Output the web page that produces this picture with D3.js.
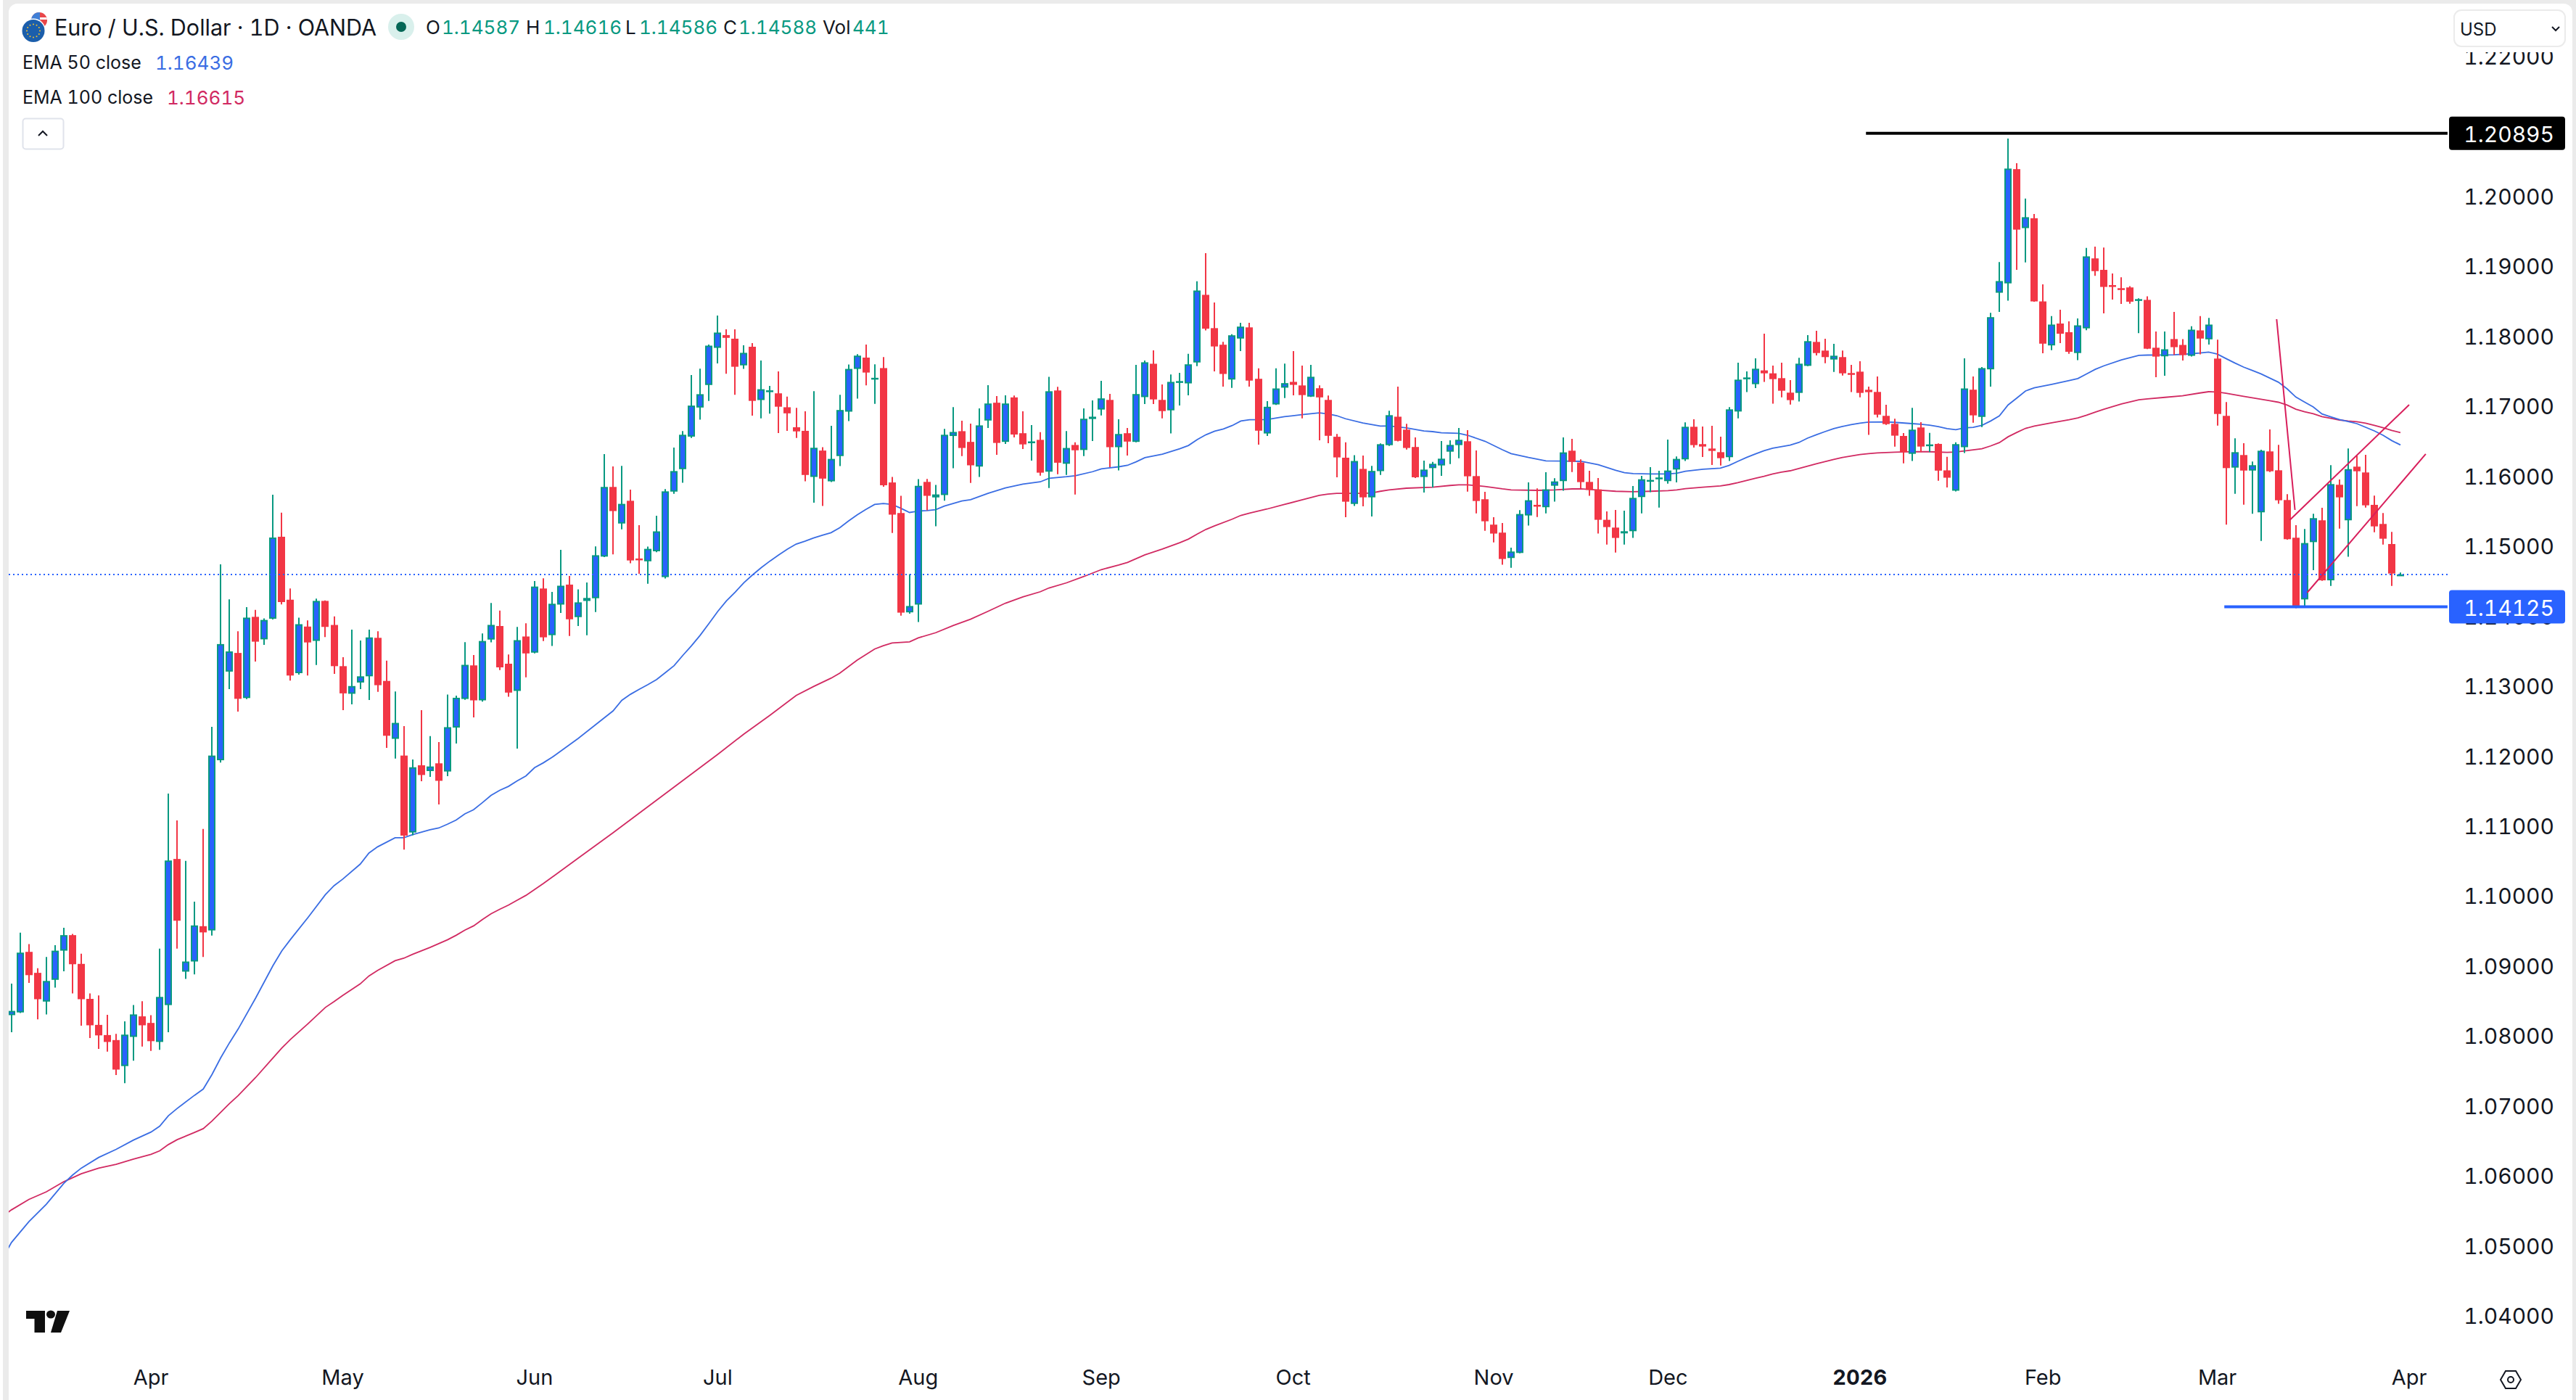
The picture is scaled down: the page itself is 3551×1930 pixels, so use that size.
<!DOCTYPE html>
<html><head><meta charset="utf-8">
<script src="https://cdn.jsdelivr.net/npm/d3@7"></script>
<style>html,body{margin:0;padding:0;background:#fff;overflow:hidden}svg{display:block}text{font-family:Inter,"Noto Sans",sans-serif;font-variant-numeric:tabular-nums}</style>
</head><body><svg id="c" width="3551" height="1930"></svg>
<script>
const highs=[
1.08738,1.09466,1.09305,1.08960,1.09121,1.09288,1.09538,1.09449,1.09166,1.08599,
1.08571,1.08293,1.08021,1.08199,1.08432,1.08488,1.08288,1.09238,1.11455,1.11071,
1.10493,1.09910,1.10949,1.12410,1.14732,1.14232,1.13777,1.14121,1.14082,1.13960,
1.15727,1.15471,1.14388,1.13971,1.13932,1.14243,1.14216,1.13988,1.13405,1.13799,
1.13643,1.13799,1.13777,1.13355,1.12916,1.12421,1.11943,1.12649,1.12277,1.12193,
1.12871,1.12856,1.13621,1.13435,1.13744,1.14181,1.14070,1.13443,1.13839,1.13891,
1.14494,1.14534,1.14339,1.14939,1.14566,1.14375,1.14474,1.14990,1.16308,1.16133,
1.16141,1.15800,1.15292,1.14986,1.15427,1.15808,1.16403,1.16637,1.17438,1.17530,
1.17875,1.18288,1.18093,1.18093,1.17863,1.17895,1.17645,1.17284,1.17490,1.17129,
1.16970,1.16919,1.17208,1.16407,1.16712,1.17157,1.17589,1.17736,1.17875,1.17593,
1.17696,1.15982,1.15712,1.14593,1.15950,1.15954,1.15867,1.16668,1.16981,1.16785,
1.16745,1.16963,1.17294,1.17138,1.17149,1.17145,1.16919,1.16723,1.16621,1.17414,
1.17269,1.16639,1.16476,1.16963,1.17076,1.17356,1.17170,1.16807,1.16683,1.17585,
1.17647,1.17792,1.17305,1.17447,1.17469,1.17741,1.18778,1.19182,1.18476,1.17912,
1.18021,1.18185,1.18185,1.17534,1.17065,1.17534,1.17603,1.17781,1.17574,1.17585,
1.17290,1.17145,1.16596,1.16476,1.16294,1.16287,1.16141,1.16461,1.16927,1.17272,
1.16741,1.16548,1.16214,1.16196,1.16495,1.16506,1.16682,1.16651,1.16361,1.15770,
1.15407,1.15324,1.14971,1.15507,1.15904,1.15818,1.16050,1.15963,1.16547,1.16527,
1.16233,1.16070,1.15967,1.15490,1.15510,1.15500,1.15853,1.15998,1.16122,1.16070,
1.16516,1.16274,1.16762,1.16806,1.16703,1.16713,1.16558,1.16979,1.17615,1.17491,
1.17677,1.18030,1.17574,1.17615,1.17366,1.17684,1.18009,1.18071,1.17957,1.17885,
1.17788,1.17584,1.17636,1.17273,1.17418,1.17014,1.16813,1.16610,1.16969,1.16765,
1.16611,1.16462,1.16269,1.16476,1.17676,1.17418,1.17553,1.18327,1.19055,1.20819,
1.20466,1.19960,1.19742,1.18735,1.18280,1.18371,1.18207,1.18247,1.19255,1.19273,
1.19262,1.18891,1.18837,1.18709,1.18535,1.18564,1.18062,1.18062,1.18342,1.17953,
1.18135,1.18280,1.18255,1.17943,1.17052,1.16533,1.16464,1.16201,1.16371,1.16661,
1.16440,1.15735,1.15292,1.15237,1.15455,1.15541,1.16150,1.15946,1.16388,1.16284,
1.16298,1.15714,1.15465,1.15196,1.14616];
const lows=[
1.08043,1.08320,1.08749,1.08227,1.08299,1.08682,1.08916,1.08599,1.08138,1.07960,
1.07805,1.07766,1.07432,1.07316,1.07638,1.07838,1.07777,1.07793,1.08043,1.09238,
1.08805,1.08871,1.09121,1.09427,1.11899,1.12949,1.12627,1.12805,1.13343,1.13582,
1.13944,1.14160,1.13071,1.13155,1.13143,1.13293,1.13693,1.13166,1.12649,1.12732,
1.12949,1.12793,1.12910,1.12110,1.11955,1.10655,1.10860,1.11632,1.11693,1.11299,
1.11705,1.12171,1.12796,1.12545,1.12770,1.13617,1.13220,1.12840,1.12099,1.13117,
1.13459,1.13637,1.13566,1.14038,1.13709,1.13851,1.13720,1.14050,1.14835,1.14875,
1.15232,1.14748,1.14597,1.14455,1.14907,1.14530,1.15740,1.15899,1.16538,1.16800,
1.17069,1.17605,1.17458,1.17157,1.17526,1.16859,1.16819,1.16887,1.16609,1.16641,
1.16538,1.15919,1.15613,1.15566,1.15910,1.16137,1.16780,1.17101,1.17292,1.17026,
1.15843,1.15181,1.13998,1.14026,1.13907,1.15506,1.15276,1.15643,1.16105,1.16279,
1.15897,1.15981,1.16683,1.16297,1.16454,1.16548,1.16381,1.16214,1.15999,1.15825,
1.16021,1.16010,1.15730,1.16279,1.16494,1.16861,1.16123,1.16076,1.16287,1.16478,
1.17025,1.17025,1.16818,1.16603,1.17003,1.17149,1.17567,1.18076,1.17490,1.17272,
1.17254,1.17781,1.17272,1.16443,1.16567,1.17010,1.17109,1.17149,1.16818,1.17125,
1.16505,1.16465,1.15977,1.15406,1.15566,1.15563,1.15417,1.16010,1.16425,1.16490,
1.16374,1.15966,1.15759,1.15832,1.15998,1.16167,1.16250,1.15773,1.15462,1.15213,
1.15047,1.14726,1.14684,1.14890,1.15286,1.15410,1.15462,1.15628,1.15784,1.16053,
1.15822,1.15711,1.15172,1.15016,1.14902,1.15016,1.15110,1.15462,1.15763,1.15545,
1.15887,1.15904,1.16209,1.16402,1.16267,1.16153,1.16146,1.16209,1.16820,1.17194,
1.17252,1.17339,1.17028,1.17121,1.17017,1.17059,1.17567,1.17719,1.17608,1.17484,
1.17432,1.17194,1.17121,1.16582,1.16831,1.16727,1.16416,1.16177,1.16209,1.16336,
1.16338,1.15927,1.15832,1.15774,1.16323,1.16756,1.16694,1.17273,1.18342,1.18502,
1.18942,1.19048,1.18485,1.17749,1.17793,1.17895,1.17742,1.17651,1.18080,1.18858,
1.18320,1.18517,1.18455,1.18458,1.18037,1.17810,1.17407,1.17429,1.17727,1.17647,
1.17702,1.17735,1.17873,1.16716,1.15299,1.15742,1.15586,1.15455,1.15068,1.16053,
1.15597,1.15085,1.14104,1.14124,1.14650,1.14497,1.14425,1.15244,1.14840,1.15565,
1.15545,1.15192,1.15016,1.14425,1.14586];
const opens=[
1.08288,1.08327,1.09193,1.08893,1.08482,1.08793,1.09210,1.09432,1.09021,1.08521,
1.08149,1.08004,1.07932,1.07560,1.07977,1.08271,1.08177,1.07905,1.08432,1.10521,
1.08910,1.09055,1.09560,1.09499,1.11932,1.13199,1.13466,1.12821,1.13982,1.13660,
1.13955,1.15127,1.14227,1.13177,1.13843,1.13638,1.14210,1.13866,1.13277,1.12882,
1.13043,1.13132,1.13682,1.13066,1.12238,1.11999,1.10899,1.11860,1.11777,1.11888,
1.11771,1.12399,1.12808,1.13288,1.12788,1.13657,1.13851,1.13312,1.12923,1.13701,
1.13470,1.14387,1.13720,1.14157,1.14443,1.13978,1.14209,1.14248,1.14843,1.15839,
1.15316,1.15641,1.14816,1.14776,1.14919,1.14550,1.15772,1.16093,1.16558,1.16974,
1.17296,1.17827,1.18010,1.17958,1.17577,1.17843,1.17081,1.17204,1.17177,1.16978,
1.16692,1.16641,1.15982,1.16359,1.15919,1.16280,1.16915,1.17526,1.17688,1.17383,
1.17538,1.15903,1.15466,1.14046,1.14157,1.15911,1.15689,1.15723,1.16567,1.16636,
1.16483,1.16130,1.16788,1.17043,1.16483,1.17119,1.16607,1.16476,1.16512,1.16057,
1.17218,1.16170,1.16439,1.16367,1.16810,1.16945,1.17083,1.16407,1.16607,1.16483,
1.17123,1.17600,1.17083,1.16934,1.17338,1.17319,1.17618,1.18585,1.18109,1.17872,
1.17374,1.17960,1.18120,1.17385,1.16603,1.17018,1.17258,1.17341,1.17290,1.17130,
1.17250,1.17083,1.16556,1.16257,1.15596,1.16097,1.15690,1.16065,1.16436,1.16843,
1.16658,1.16410,1.15981,1.16108,1.16146,1.16343,1.16437,1.16492,1.15994,1.15663,
1.15300,1.15186,1.14823,1.14895,1.15431,1.15583,1.15549,1.15856,1.15922,1.16357,
1.16188,1.15911,1.15804,1.15369,1.15258,1.15175,1.15206,1.15694,1.15922,1.15956,
1.15922,1.16088,1.16233,1.16699,1.16451,1.16388,1.16336,1.16264,1.16917,1.17391,
1.17308,1.17505,1.17463,1.17394,1.17187,1.17183,1.17570,1.17912,1.17788,1.17660,
1.17695,1.17467,1.17487,1.17228,1.17197,1.16855,1.16741,1.16568,1.16312,1.16689,
1.16436,1.16454,1.16076,1.15785,1.16407,1.17229,1.16840,1.17520,1.18615,1.18749,
1.20382,1.19539,1.19680,1.18491,1.17862,1.18175,1.18051,1.17753,1.18106,1.19106,
1.18942,1.18724,1.18680,1.18691,1.18502,1.18513,1.17829,1.17706,1.17953,1.17869,
1.17713,1.18077,1.17949,1.17674,1.16855,1.16115,1.16295,1.16073,1.15476,1.16347,
1.16077,1.15652,1.15113,1.14231,1.15050,1.15362,1.14504,1.15870,1.15362,1.16129,
1.16046,1.15583,1.15310,1.15023,1.14587];
const closes=[
1.08349,1.09182,1.08860,1.08516,1.08777,1.09210,1.09432,1.09016,1.08516,1.08143,
1.07999,1.07905,1.07510,1.08010,1.08299,1.08143,1.07916,1.08549,1.10499,1.09638,
1.09055,1.09571,1.09471,1.11999,1.13593,1.13488,1.12810,1.13971,1.13627,1.13938,
1.15116,1.14193,1.13143,1.13877,1.13616,1.14210,1.13838,1.13277,1.12888,1.12993,
1.13132,1.13688,1.13005,1.12282,1.12466,1.10855,1.11832,1.11721,1.11843,1.11638,
1.12405,1.12825,1.13296,1.12788,1.13637,1.13867,1.13260,1.12899,1.13649,1.13459,
1.14415,1.13689,1.14169,1.14427,1.13947,1.14189,1.14252,1.14863,1.15839,1.15494,
1.15597,1.14788,1.14800,1.14954,1.15204,1.15776,1.16066,1.16585,1.17002,1.17165,
1.17859,1.18046,1.17970,1.17557,1.17756,1.17069,1.17236,1.17220,1.16986,1.16891,
1.16633,1.16010,1.16399,1.15958,1.16240,1.16939,1.17526,1.17716,1.17474,1.17399,
1.15863,1.15443,1.14042,1.14137,1.15855,1.15712,1.15732,1.16585,1.16625,1.16396,
1.16148,1.16719,1.17032,1.16468,1.17032,1.16588,1.16447,1.16490,1.16043,1.17207,
1.16185,1.16396,1.16363,1.16814,1.16843,1.17105,1.16407,1.16596,1.16487,1.17167,
1.17621,1.17090,1.16923,1.17341,1.17352,1.17592,1.18647,1.18101,1.17847,1.17454,
1.18007,1.18131,1.17359,1.16643,1.16985,1.17247,1.17323,1.17298,1.17152,1.17414,
1.17119,1.16570,1.16261,1.15628,1.16210,1.15690,1.16068,1.16450,1.16865,1.16498,
1.16396,1.15977,1.16087,1.16170,1.16243,1.16440,1.16513,1.15991,1.15638,1.15348,
1.15172,1.14809,1.14916,1.15452,1.15649,1.15569,1.15804,1.15918,1.16333,1.16198,
1.15908,1.15797,1.15369,1.15265,1.15110,1.15206,1.15683,1.15949,1.15939,1.15974,
1.16074,1.16240,1.16699,1.16437,1.16416,1.16354,1.16250,1.16948,1.17373,1.17404,
1.17529,1.17463,1.17380,1.17214,1.17080,1.17601,1.17923,1.17753,1.17695,1.17715,
1.17463,1.17457,1.17183,1.17194,1.16872,1.16737,1.16572,1.16336,1.16658,1.16416,
1.16447,1.16072,1.15971,1.16451,1.17247,1.16862,1.17538,1.18266,1.18782,1.20390,
1.19517,1.19695,1.18491,1.17887,1.18160,1.18029,1.17771,1.18149,1.19135,1.18924,
1.18698,1.18713,1.18669,1.18487,1.18524,1.17815,1.17702,1.17807,1.17837,1.17724,
1.18087,1.17960,1.18160,1.16882,1.16108,1.16336,1.16073,1.16150,1.16357,1.16063,
1.15648,1.15092,1.14124,1.15037,1.15393,1.14504,1.15880,1.15690,1.16094,1.16063,
1.15576,1.15275,1.15099,1.14601,1.14588];
const ema50Bars=[0,1,3,5,7,8,9,11,13,15,17,18,19,20,22,23,24,25,26,27,29,31,32,33,35,37,38,39,41,42,43,45,46,47,49,50,51,52,53,54,55,56,57,58,59,60,61,62,63,66,70,71,72,73,74,75,76,77,78,79,80,81,82,83,84,85,86,87,88,89,90,91,92,93,94,95,96,97,98,99,100,101,102,103,104,105,106,107,108,110,111,113,115,117,119,120,122,123,125,126,128,129,130,131,133,135,136,137,138,139,140,141,142,143,145,147,149,151,152,153,154,156,158,159,161,163,164,165,167,168,170,172,173,175,177,179,181,183,185,186,187,189,191,192,193,195,197,198,199,200,201,202,203,205,206,207,208,209,210,211,212,213,214,216,217,219,220,221,222,223,224,225,226,227,228,229,230,231,232,233,235,237,238,239,240,241,243,245,246,249,251,252,253,254,255,256,257,258,259,260,261,262,263,264,265,266,267,268,269,270,271,272,273,274,275];
const ema50Values=[1.04816,1.05039,1.05337,1.05585,1.05883,1.06001,1.06101,1.06254,1.06369,1.06503,1.06617,1.06701,1.06850,1.06954,1.07143,1.07232,1.07440,1.07678,1.07892,1.08090,1.08532,1.08998,1.09206,1.09370,1.09683,1.10010,1.10139,1.10233,1.10447,1.10605,1.10695,1.10824,1.10824,1.10868,1.10938,1.10963,1.11017,1.11077,1.11166,1.11225,1.11325,1.11429,1.11503,1.11558,1.11637,1.11707,1.11826,1.11895,1.11974,1.12244,1.12637,1.12788,1.12875,1.12947,1.13014,1.13086,1.13185,1.13284,1.13431,1.13570,1.13720,1.13887,1.14058,1.14209,1.14335,1.14470,1.14582,1.14685,1.14780,1.14867,1.14951,1.15022,1.15062,1.15109,1.15149,1.15185,1.15256,1.15351,1.15439,1.15518,1.15589,1.15601,1.15589,1.15534,1.15474,1.15494,1.15502,1.15514,1.15566,1.15639,1.15657,1.15748,1.15825,1.15879,1.15912,1.15963,1.15985,1.15999,1.16057,1.16097,1.16127,1.16148,1.16199,1.16257,1.16308,1.16385,1.16432,1.16516,1.16585,1.16636,1.16668,1.16716,1.16781,1.16799,1.16803,1.16843,1.16872,1.16898,1.16883,1.16858,1.16814,1.16752,1.16708,1.16712,1.16683,1.16639,1.16630,1.16613,1.16606,1.16578,1.16492,1.16371,1.16316,1.16260,1.16212,1.16209,1.16205,1.16157,1.16077,1.16043,1.16029,1.16025,1.16025,1.16036,1.16063,1.16091,1.16108,1.16146,1.16205,1.16260,1.16309,1.16357,1.16392,1.16437,1.16475,1.16537,1.16585,1.16630,1.16672,1.16703,1.16730,1.16751,1.16765,1.16768,1.16762,1.16744,1.16734,1.16722,1.16702,1.16673,1.16658,1.16684,1.16691,1.16720,1.16782,1.16854,1.17011,1.17109,1.17211,1.17255,1.17305,1.17360,1.17389,1.17455,1.17520,1.17571,1.17655,1.17720,1.17724,1.17727,1.17742,1.17753,1.17767,1.17738,1.17673,1.17611,1.17553,1.17505,1.17455,1.17396,1.17337,1.17242,1.17124,1.17052,1.16982,1.16882,1.16841,1.16803,1.16775,1.16744,1.16692,1.16640,1.16578,1.16502,1.16439];
const ema100Bars=[0,1,3,5,7,9,11,13,15,17,18,19,20,22,23,24,25,26,27,29,31,32,33,35,37,38,39,41,42,43,45,46,47,49,51,52,53,54,55,56,57,58,59,60,61,62,66,70,74,78,82,85,88,91,93,95,96,98,100,101,102,104,105,107,109,111,113,115,117,119,120,122,124,126,128,129,131,133,135,136,137,138,139,141,142,143,145,147,149,151,152,153,156,157,158,159,161,164,166,167,168,170,172,173,176,178,180,181,183,185,187,189,191,192,193,195,197,198,199,200,201,202,203,204,205,206,207,208,209,210,211,212,213,214,215,217,219,221,223,224,225,227,228,229,230,231,232,233,235,237,238,239,240,241,243,245,246,248,250,252,253,254,255,257,258,260,261,262,263,264,265,266,267,268,269,270,271,272,273,274,275];
const ema100Values=[1.05416,1.05505,1.05654,1.05763,1.05907,1.06021,1.06101,1.06155,1.06230,1.06299,1.06349,1.06438,1.06508,1.06612,1.06666,1.06775,1.06900,1.07024,1.07138,1.07396,1.07678,1.07817,1.07941,1.08165,1.08398,1.08482,1.08571,1.08735,1.08849,1.08929,1.09067,1.09102,1.09157,1.09256,1.09365,1.09430,1.09504,1.09564,1.09653,1.09737,1.09802,1.09861,1.09931,1.10000,1.10084,1.10169,1.10533,1.10896,1.11269,1.11643,1.12016,1.12306,1.12576,1.12859,1.12986,1.13105,1.13177,1.13363,1.13522,1.13570,1.13609,1.13625,1.13681,1.13755,1.13857,1.13948,1.14061,1.14177,1.14268,1.14341,1.14395,1.14468,1.14559,1.14657,1.14723,1.14759,1.14868,1.14952,1.15043,1.15094,1.15166,1.15232,1.15283,1.15378,1.15432,1.15465,1.15523,1.15588,1.15654,1.15719,1.15737,1.15748,1.15748,1.15752,1.15777,1.15796,1.15821,1.15836,1.15860,1.15870,1.15870,1.15846,1.15811,1.15797,1.15790,1.15797,1.15811,1.15811,1.15794,1.15777,1.15770,1.15777,1.15787,1.15797,1.15815,1.15835,1.15853,1.15873,1.15901,1.15932,1.15963,1.15991,1.16025,1.16050,1.16070,1.16102,1.16136,1.16171,1.16202,1.16233,1.16260,1.16281,1.16302,1.16316,1.16326,1.16336,1.16343,1.16342,1.16334,1.16338,1.16353,1.16385,1.16425,1.16473,1.16556,1.16618,1.16676,1.16709,1.16756,1.16800,1.16825,1.16865,1.16909,1.16949,1.17025,1.17084,1.17098,1.17120,1.17142,1.17182,1.17200,1.17196,1.17178,1.17134,1.17113,1.17073,1.17050,1.17010,1.16951,1.16913,1.16886,1.16844,1.16820,1.16796,1.16782,1.16772,1.16751,1.16720,1.16685,1.16647,1.16615];
const priceTicks=[1.22,1.20,1.19,1.18,1.17,1.16,1.15,1.14,1.13,1.12,1.11,1.10,1.09,1.08,1.07,1.06,1.05,1.04];
const monthBars=[17,39,61,82,105,126,148,171,191,213,234,254,276];
const monthLabels=["Apr","May","Jun","Jul","Aug","Sep","Oct","Nov","Dec","2026","Feb","Mar","Apr"];
const lastPrice=1.14588, highLevel=1.20895, lowLevel=1.14125;
// hand-drawn lines: [bar, price] end points
const trendSteep=[[260.8,1.18237],[262.9,1.15510]];
const channelUpper=[[262.3,1.15365],[276,1.17014]];
const channelLower=[[264.3,1.14328],[277.9,1.16309]];
const highLevelBars=[213.7,280.4], lowLevelBars=[254.8,280.4];

const UP_BODY="#2962ff",UP_EDGE="#089981",DOWN="#f23645",INK="#131722";
const EMA50_COLOR="#3a6de3",EMA100_COLOR="#d12a62";
const svg=d3.select("#c");
const x=d3.scaleLinear().domain([1,275]).range([15.8,3309]);
const y=d3.scaleLinear().domain([1.2,1.04]).range([270,1813]);

// page frame
svg.append("rect").attr("x",4).attr("y",0).attr("width",3547).attr("height",1930).attr("fill","#ebebeb");
svg.append("rect").attr("x",12).attr("y",5).attr("width",3534).attr("height",1960).attr("rx",12).attr("fill","#fff");
const defs=svg.append("defs");
defs.append("clipPath").attr("id","plot").append("rect").attr("x",12).attr("y",5).attr("width",3362).attr("height",1925);
defs.append("clipPath").attr("id","usf").append("circle").attr("cx",54).attr("cy",28).attr("r",11);

const plot=svg.append("g").attr("clip-path","url(#plot)");
const line=d3.line().x(d=>x(d[0])).y(d=>y(d[1]));
plot.append("path").attr("d",line(d3.zip(ema100Bars,ema100Values))).attr("fill","none").attr("stroke",EMA100_COLOR).attr("stroke-width",1.8);
plot.append("path").attr("d",line(d3.zip(ema50Bars,ema50Values))).attr("fill","none").attr("stroke",EMA50_COLOR).attr("stroke-width",1.8);

const bars=d3.range(highs.length).map(i=>({n:i+1,o:opens[i],h:highs[i],l:lows[i],c:closes[i],up:closes[i]>=opens[i]}));
const g=plot.selectAll("g.c").data(bars).join("g").attr("class","c");
g.append("line").attr("x1",d=>Math.round(x(d.n))).attr("x2",d=>Math.round(x(d.n)))
 .attr("y1",d=>y(d.h)).attr("y2",d=>y(d.l)).attr("stroke",d=>d.up?UP_EDGE:DOWN).attr("stroke-width",2);
g.append("rect").attr("x",d=>Math.round(x(d.n))-5+1).attr("width",8)
 .attr("y",d=>y(Math.max(d.o,d.c))+1).attr("height",d=>Math.max(0.5,Math.abs(y(d.o)-y(d.c))-2))
 .attr("fill",d=>d.up?UP_BODY:DOWN).attr("stroke",d=>d.up?UP_EDGE:DOWN).attr("stroke-width",2);

plot.append("line").attr("x1",12).attr("x2",3374).attr("y1",y(lastPrice)).attr("y2",y(lastPrice))
 .attr("stroke","#2962ff").attr("stroke-width",2).attr("stroke-dasharray","2 4");
[trendSteep,channelUpper,channelLower].forEach(t=>plot.append("path").attr("d",line(t)).attr("fill","none").attr("stroke","#d81e5b").attr("stroke-width",2));
plot.append("line").attr("x1",x(highLevelBars[0])).attr("x2",x(highLevelBars[1])).attr("y1",y(highLevel)).attr("y2",y(highLevel)).attr("stroke","#000").attr("stroke-width",4);
plot.append("line").attr("x1",x(lowLevelBars[0])).attr("x2",x(lowLevelBars[1])).attr("y1",y(lowLevel)).attr("y2",y(lowLevel)).attr("stroke","#2962ff").attr("stroke-width",4);

// price axis
const AXF=30;
svg.selectAll("text.py").data(priceTicks).join("text").attr("class","py").attr("x",3521).attr("y",d=>y(d)+1)
 .attr("text-anchor","end").attr("dominant-baseline","central").attr("font-size",AXF).attr("fill",INK).text(d=>d.toFixed(5));
function tag(v,fill){
 svg.append("rect").attr("x",3376).attr("y",y(v)-23).attr("width",160).attr("height",46).attr("rx",4).attr("fill",fill);
 svg.append("text").attr("x",3521).attr("y",y(v)+1).attr("text-anchor","end").attr("dominant-baseline","central")
  .attr("font-size",AXF).attr("fill","#fff").text(v.toFixed(5));
}
tag(highLevel,"#000");tag(lowLevel,"#2962ff");

// time axis
svg.selectAll("text.mx").data(monthBars).join("text").attr("class","mx").attr("x",d=>x(d)).attr("y",1898)
 .attr("text-anchor","middle").attr("dominant-baseline","central").attr("font-size",29)
 .attr("font-weight",(d,i)=>monthLabels[i]==="2026"?700:400).attr("fill",INK).text((d,i)=>monthLabels[i]);

// currency select (its white backing clips the top of the 1.22000 label)
svg.append("rect").attr("x",3383).attr("y",6).attr("width",154).attr("height",66).attr("fill","#fff");
svg.append("rect").attr("x",3383).attr("y",14).attr("width",153).attr("height",50).attr("rx",10).attr("fill","#fff").attr("stroke","#ebebeb").attr("stroke-width",2);
svg.append("text").attr("x",3391).attr("y",40).attr("dominant-baseline","central").attr("font-size",24).attr("fill",INK).text("USD");
svg.append("path").attr("d","M3518 37l5 5 5-5").attr("fill","none").attr("stroke",INK).attr("stroke-width",2);

// settings, logo
const hex=d3.range(6).map(i=>[3461+14*Math.cos(i*Math.PI/3),1902+14*Math.sin(i*Math.PI/3)]);
svg.append("path").attr("d",d3.line()(hex)+"Z").attr("fill","none").attr("stroke",INK).attr("stroke-width",2);
svg.append("circle").attr("cx",3461).attr("cy",1902).attr("r",4).attr("fill","none").attr("stroke",INK).attr("stroke-width",2);
svg.append("path").attr("d","M36 1807H62V1837H47.5V1818H36Z M79 1807H96L84 1837H70Z").attr("fill","#0f0f0f");
svg.append("ellipse").attr("cx",70).attr("cy",1812).attr("rx",6).attr("ry",5.5).attr("fill","#0f0f0f");

// legend
function t(xp,yp,s,fill,size){return svg.append("text").attr("x",xp).attr("y",yp).attr("dominant-baseline","central").attr("font-size",size).attr("fill",fill).text(s);}
const us=svg.append("g").attr("clip-path","url(#usf)");
us.append("rect").attr("x",43).attr("y",17).attr("width",22).attr("height",22).attr("fill","#e8464a");
us.append("rect").attr("x",43).attr("y",24).attr("width",22).attr("height",3).attr("fill","#fff");
us.append("rect").attr("x",43).attr("y",17).attr("width",12).attr("height",14).attr("fill","#3f7fd6");
svg.append("circle").attr("cx",46).attr("cy",42.5).attr("r",17).attr("fill","#fff");
svg.append("circle").attr("cx",46).attr("cy",42.5).attr("r",15.5).attr("fill","#1b5eab");
d3.range(12).forEach(i=>svg.append("circle").attr("cx",46+9*Math.cos(i*Math.PI/6)).attr("cy",42.5+9*Math.sin(i*Math.PI/6)).attr("r",1).attr("fill","#f2c230"));
t(75,37,"Euro / U.S. Dollar · 1D · OANDA",INK,30.5);
svg.append("ellipse").attr("cx",553).attr("cy",37).attr("rx",18).attr("ry",18).attr("fill","#d9f0ec");
svg.append("circle").attr("cx",553).attr("cy",37).attr("r",7).attr("fill","#056656");
const GREEN="#089981";
t(587,37,"O",INK,26);t(609,37,"1.14587",GREEN,26);
t(725,37,"H",INK,26);t(749,37,"1.14616",GREEN,26);
t(862,37,"L",INK,26);t(881,37,"1.14586",GREEN,26);
t(997,37,"C",INK,26);t(1018,37,"1.14588",GREEN,26);
t(1134,37,"Vol",INK,26);t(1175,37,"441",GREEN,26);
t(31,86,"EMA 50 close",INK,25);t(214,86,"1.16439",EMA50_COLOR,26);
t(31,134,"EMA 100 close",INK,25);t(230,134,"1.16615",EMA100_COLOR,26);
svg.append("rect").attr("x",31.5).attr("y",163.5).attr("width",56).attr("height",42).attr("rx",4).attr("fill","#fff").attr("stroke","#e0e3eb").attr("stroke-width",2);
svg.append("path").attr("d","M53 187l6-6 6 6").attr("fill","none").attr("stroke",INK).attr("stroke-width",2);
</script></body></html>
